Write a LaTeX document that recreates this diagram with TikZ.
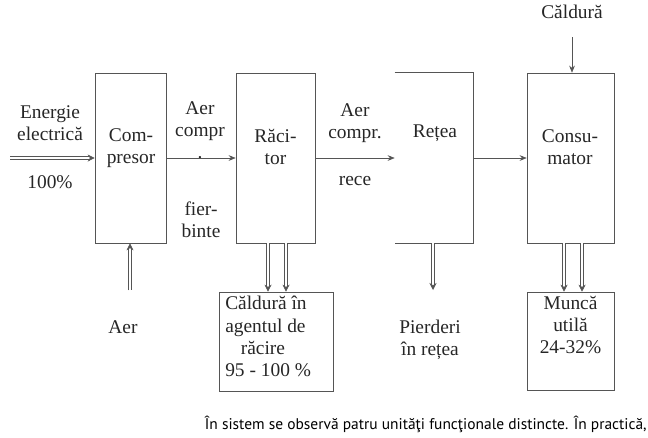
\documentclass[tikz,border=0pt]{standalone}
\usepackage{fontspec}
\setmainfont{Liberation Serif}
\newfontfamily\serifboxfont{Liberation Serif}
\newfontfamily\bottomfont{PT Sans}
\usetikzlibrary{arrows.meta, positioning, calc}
\definecolor{mygray}{HTML}{555555}
\tikzset{
	blocknode/.style={
			draw=mygray,
			thin,
			minimum height=4.25cm,
			inner sep=0pt
		},
	outnode/.style={
			blocknode,
			minimum height=2.475cm
		},
	textnode/.style={
			font=\serifboxfont\fontsize{13.8}{15.8}\selectfont,
			align=center,
			inner sep=0pt,
			text=black!85
		},
	flow/.style={
			draw=mygray,
			thin,
			-{Stealth[length=5pt,width=4pt]}
		},
	heatflow/.style={
			draw=mygray,
			double=white,
			double distance=1.6pt,
			thin,
			-{Stealth[length=5pt,width=5pt]}
		}
}

\begin{document}
\begin{tikzpicture}[x=0.025cm, y=-0.025cm]
\useasboundingbox (0,0) rectangle (648,437);
    \node[blocknode, minimum width=1.775cm] (comp) at (130.5,158) {};
    \node[blocknode, minimum width=1.975cm] (racitor) at (275.5,158) {};
    \node[blocknode, draw=none, minimum width=1.95cm] (retea) at (434,158) {};
    \node[blocknode, minimum width=2.175cm] (consum) at (570.5,158) {};
    \node[outnode, minimum width=2.85cm] (caldbox) at (276,341.5) {};
    \node[outnode, minimum width=2.175cm, minimum height=2.45cm] (munca) at (570.5,341) {};
    \draw[mygray, thin] (retea.north west) -- (retea.north east) -- (retea.south east) -- (retea.south west);

    \node[textnode] (complbl) at (131,148) {Com-\\presor};
    \node[textnode] (raclbl) at (275.5,147) {Răci-\\tor};
    \node[textnode] (retlbl) at (435,133) {Rețea};
    \node[textnode] (conslbl) at (570,147) {Consu-\\mator};

    \node[textnode] (energie) at (50,123) {Energie\\electrică};
    \node[textnode] (proc) at (50,182) {100\%};
    \node[textnode] (aer1) at (200,130) {Aer\\compr\\.};
    \node[textnode] (fier) at (201,220) {fier-\\binte};
    \node[textnode] (aer2) at (355,123) {Aer\\compr.};
    \node[textnode] (rece) at (355,181) {rece};
    \node[textnode] (caldtop) at (572,12) {Căldură};
    \node[textnode] (aerin) at (123,327) {Aer};
    \node[textnode] (pierderi) at (430,340) {Pierderi\\în rețea};
    \node[textnode, align=left, anchor=north west] (caldtxt) at (225,296) {Căldură în\\agentul de\\\hspace{0.8em}răcire\\95 - 100 \%};
    \node[textnode, anchor=north] (munctxt) at (570.5,296) {Muncă\\utilă\\24-32\%};

    \node[anchor=base east, inner sep=0pt, font=\bottomfont\fontsize{11}{13}\selectfont] (caption) at (647,429)
        {În sistem se observă patru unităţi funcţionale distincte. În practică,};

    \coordinate (ein) at (10,158);
    \coordinate (cin) at (572,37);
    \coordinate (ain) at (130,290);
    \coordinate (pout) at (433,290);

    \draw[heatflow] (ein) -- (comp.west);
    \draw[flow] (comp) -- (racitor);
    \draw[flow] (racitor) -- (retea.west);
    \draw[flow] (retea) -- (consum);
    \draw[flow] (cin) -- (cin |- consum.north);
    \draw[heatflow] (ain |- comp.south) ++(0,47) -- (ain |- comp.south);

    \foreach \dx [count=\i] in {-7.5,10.5} {
        \coordinate (r\i) at ($(racitor.south)+(\dx,0)$);
        \draw[heatflow] (r\i) -- (r\i |- caldbox.north);
    }
    \foreach \dx [count=\i] in {-6.5,11.5} {
        \coordinate (c\i) at ($(consum.south)+(\dx,0)$);
        \draw[heatflow] (c\i) -- (c\i |- munca.north);
    }
    \draw[heatflow] (pout |- retea.south) -- (pout);
\end{tikzpicture}
\end{document}
